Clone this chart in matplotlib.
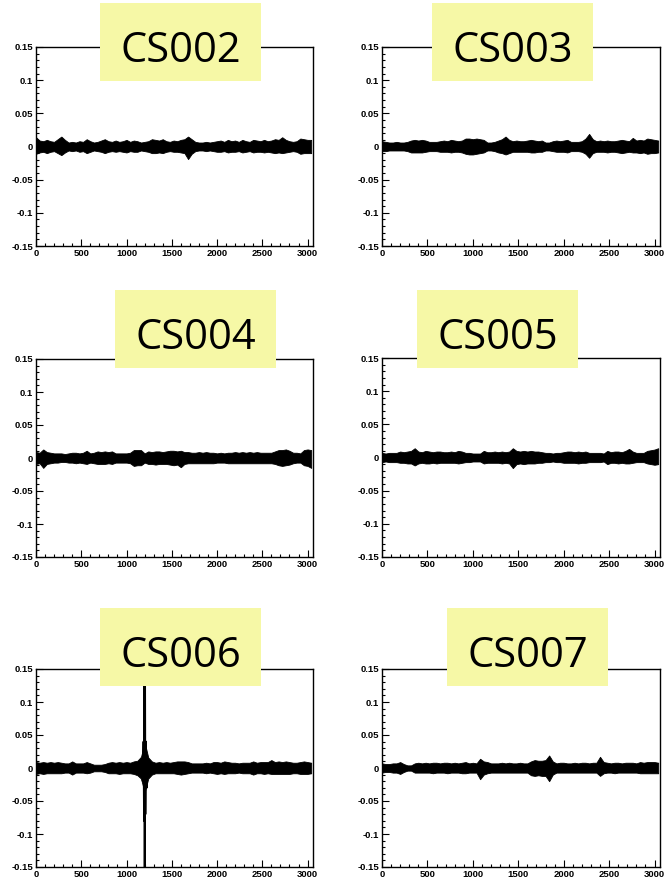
import numpy as np
import matplotlib.pyplot as plt
from matplotlib.patches import Rectangle
from matplotlib.ticker import FixedLocator, MultipleLocator

# Station names (one panel each)
stations = ["CS002", "CS003", "CS004", "CS005", "CS006", "CS007"]

# Sample positions of the envelope readings (every 40 samples)
sample_x = np.arange(0, 3080, 40)

# Upper / lower envelope of each trace (units of 1e-3)
cs002_up = [14, 9, 8, 10, 8, 7, 11, 15, 10, 6, 7, 6, 8, 7, 11, 8, 6, 7, 9, 11,
            8, 7, 9, 7, 8, 10, 7, 9, 8, 6, 7, 8, 11, 10, 9, 11, 8, 7, 9, 8,
            10, 11, 15, 11, 7, 6, 6, 7, 6, 7, 8, 9, 7, 10, 8, 9, 7, 10, 8, 7,
            10, 9, 8, 10, 8, 9, 11, 10, 14, 10, 8, 7, 8, 12, 11, 10, 10]
cs002_lo = [11, 9, 8, 10, 8, 7, 10, 13, 9, 6, 7, 6, 8, 7, 10, 8, 6, 7, 8, 10,
            8, 7, 8, 7, 8, 9, 7, 8, 8, 6, 7, 8, 10, 10, 9, 10, 8, 7, 8, 8,
            9, 10, 19, 11, 7, 6, 6, 7, 6, 7, 8, 8, 7, 9, 8, 8, 7, 9, 8, 7,
            9, 8, 8, 9, 8, 9, 10, 9, 10, 9, 8, 7, 8, 11, 10, 10, 10]

cs003_up = [8, 7, 6, 6, 7, 6, 6, 7, 9, 10, 9, 10, 9, 7, 7, 7, 8, 9, 8, 10,
            9, 8, 9, 12, 12, 11, 12, 11, 10, 6, 6, 7, 9, 11, 15, 10, 8, 9, 8, 8,
            9, 10, 9, 8, 9, 6, 6, 8, 9, 8, 9, 10, 7, 7, 7, 8, 12, 19, 11, 8,
            9, 8, 9, 8, 8, 9, 10, 9, 8, 13, 9, 10, 9, 12, 11, 10, 9]
cs003_lo = [7, 7, 6, 6, 6, 6, 6, 7, 9, 9, 9, 9, 8, 7, 7, 7, 8, 8, 8, 9,
            8, 8, 9, 11, 12, 12, 11, 10, 9, 6, 6, 7, 9, 10, 12, 10, 8, 8, 8, 8,
            8, 9, 9, 8, 8, 6, 6, 7, 8, 8, 8, 9, 7, 7, 7, 8, 11, 17, 10, 8,
            8, 8, 9, 8, 8, 9, 10, 9, 8, 9, 9, 10, 9, 11, 10, 10, 9]

cs004_up = [9, 8, 13, 9, 8, 7, 7, 7, 6, 7, 8, 8, 7, 8, 11, 7, 8, 10, 9, 10,
            9, 10, 7, 7, 7, 7, 8, 12, 12, 12, 7, 10, 9, 10, 10, 9, 10, 11, 11, 10,
            11, 9, 9, 8, 8, 9, 8, 9, 8, 8, 7, 8, 7, 8, 8, 9, 8, 9, 8, 9,
            8, 9, 8, 8, 8, 8, 10, 12, 12, 13, 11, 8, 8, 7, 12, 13, 12]
cs004_lo = [9, 8, 15, 9, 8, 7, 7, 6, 6, 7, 7, 8, 7, 8, 9, 7, 8, 9, 9, 9,
            8, 9, 7, 7, 7, 7, 8, 12, 11, 11, 7, 9, 9, 10, 9, 9, 9, 10, 11, 10,
            14, 9, 8, 8, 8, 8, 8, 8, 8, 8, 7, 7, 7, 8, 8, 8, 8, 8, 8, 8,
            8, 8, 8, 8, 8, 8, 9, 11, 12, 11, 10, 8, 7, 7, 11, 12, 15]

cs005_up = [7, 6, 7, 7, 7, 9, 8, 9, 10, 14, 9, 8, 10, 9, 8, 9, 9, 8, 8, 9,
            8, 10, 9, 7, 7, 6, 6, 6, 10, 8, 8, 9, 8, 9, 8, 9, 14, 10, 9, 10,
            9, 10, 9, 9, 8, 7, 7, 6, 7, 7, 8, 9, 9, 8, 9, 8, 9, 7, 7, 7,
            7, 6, 10, 8, 9, 9, 8, 10, 13, 9, 7, 7, 7, 10, 11, 12, 14]
cs005_lo = [7, 6, 7, 7, 7, 8, 8, 9, 9, 12, 9, 8, 9, 9, 8, 9, 8, 8, 8, 8,
            8, 9, 8, 7, 7, 6, 6, 6, 9, 8, 8, 8, 8, 9, 8, 9, 16, 10, 9, 10,
            9, 9, 9, 8, 8, 7, 7, 6, 7, 7, 8, 8, 8, 8, 9, 8, 8, 7, 7, 7,
            7, 6, 10, 8, 8, 9, 8, 9, 9, 8, 7, 7, 7, 9, 10, 11, 10]

cs006_up = [9, 8, 9, 8, 9, 8, 9, 8, 7, 7, 10, 7, 7, 7, 9, 7, 5, 5, 5, 6,
            8, 9, 8, 9, 8, 9, 8, 10, 11, 17, 39, 16, 10, 8, 9, 8, 9, 8, 9, 10,
            10, 10, 9, 7, 7, 7, 7, 8, 7, 9, 9, 8, 10, 9, 8, 8, 7, 8, 8, 8,
            10, 8, 9, 9, 9, 12, 9, 10, 9, 10, 9, 8, 8, 9, 10, 9, 8]
cs006_lo = [9, 8, 9, 8, 8, 8, 8, 8, 7, 7, 10, 7, 7, 7, 8, 7, 5, 5, 5, 6,
            8, 8, 8, 9, 8, 8, 8, 9, 11, 16, 37, 16, 10, 8, 8, 8, 8, 8, 8, 9,
            10, 9, 8, 7, 7, 7, 7, 8, 7, 8, 9, 8, 9, 8, 8, 8, 7, 8, 8, 8,
            10, 8, 8, 9, 8, 9, 9, 9, 9, 9, 9, 8, 8, 9, 9, 9, 8]

cs007_up = [7, 6, 6, 7, 7, 9, 6, 4, 4, 7, 8, 7, 8, 7, 8, 8, 7, 8, 8, 7,
            8, 7, 8, 9, 7, 8, 7, 14, 10, 9, 7, 7, 7, 8, 7, 8, 7, 7, 8, 7,
            7, 10, 12, 11, 11, 12, 19, 10, 7, 8, 8, 7, 7, 8, 7, 8, 8, 7, 8, 8,
            17, 9, 8, 7, 8, 8, 7, 8, 8, 8, 7, 9, 8, 9, 9, 9, 8]
cs007_lo = [7, 6, 6, 7, 7, 9, 6, 4, 4, 7, 7, 7, 7, 7, 8, 7, 7, 7, 8, 7,
            7, 7, 8, 8, 7, 7, 7, 17, 10, 8, 7, 7, 7, 7, 7, 7, 7, 7, 7, 7,
            7, 11, 12, 11, 12, 12, 20, 10, 7, 7, 7, 7, 7, 7, 7, 7, 7, 7, 7, 7,
            12, 8, 7, 7, 8, 7, 7, 7, 7, 7, 7, 8, 8, 8, 8, 8, 8]

# The strong pulse seen by CS006 around sample 1200
pulse_x = [1170, 1180, 1188, 1194, 1198, 1201, 1204, 1208, 1214, 1222, 1232]
pulse_y = [0.012, -0.02, 0.04, -0.08, 0.17, -0.17, 0.16, -0.07, 0.04, -0.03, 0.015]

uppers = [cs002_up, cs003_up, cs004_up, cs005_up, cs006_up, cs007_up]
lowers = [cs002_lo, cs003_lo, cs004_lo, cs005_lo, cs006_lo, cs007_lo]

# Tick labels (ROOT style)
x_ticks = [0, 500, 1000, 1500, 2000, 2500, 3000]
x_labels = ["0", "500", "1000", "1500", "2000", "2500", "3000"]
y_ticks = [-0.15, -0.1, -0.05, 0, 0.05, 0.1, 0.15]
y_labels = ["-0.15", "-0.1", "-0.05", "0", "0.05", "0.1", "0.15"]

W, H = 664, 881
fig = plt.figure(figsize=(W / 100, H / 100), dpi=100)

# axes frames in pixels: (left, top, right, bottom)
frames = [(36, 47, 313, 246), (382, 47, 660, 246),
          (36, 359, 313, 557), (382, 358, 660, 557),
          (36, 669, 313, 867), (382, 669, 660, 867)]
# yellow title boxes in pixels: (left, top)
boxes = [(100, 3), (432, 3), (115, 290), (417, 290), (100, 608), (447, 608)]
box_w, box_h = 161, 78

for k, name in enumerate(stations):
    l, t, r, b = frames[k]
    ax = fig.add_axes([l / W, 1 - b / H, (r - l) / W, (b - t) / H])
    up = np.array(uppers[k]) * 1e-3
    lo = -np.array(lowers[k]) * 1e-3
    ax.fill_between(sample_x, lo, up, color='black', lw=0.6)
    if name == "CS006":
        ax.plot(pulse_x, pulse_y, color='black', lw=1.4)
    ax.set_xlim(0, 3060)
    ax.set_ylim(-0.15, 0.15)
    ax.xaxis.set_major_locator(FixedLocator(x_ticks))
    ax.xaxis.set_minor_locator(MultipleLocator(100))
    ax.yaxis.set_major_locator(FixedLocator(y_ticks))
    ax.yaxis.set_minor_locator(MultipleLocator(0.01))
    ax.set_xticklabels(x_labels)
    ax.set_yticklabels(y_labels)
    ax.tick_params(which='both', direction='in', top=False, right=False,
                   width=0.8, labelsize=6.8)
    ax.tick_params(which='major', length=5, pad=2)
    ax.tick_params(which='minor', length=2.5)
    for lab in ax.get_xticklabels() + ax.get_yticklabels():
        lab.set_fontfamily('Liberation Sans')
        lab.set_fontweight('bold')
    for s in ax.spines.values():
        s.set_linewidth(1.0)

    bx, by = boxes[k]
    fig.add_artist(Rectangle((bx / W, 1 - (by + box_h) / H), box_w / W, box_h / H,
                             transform=fig.transFigure, facecolor='#f6f8a6',
                             edgecolor='none', zorder=5))
    fig.text((bx + box_w / 2) / W, 1 - (by + 59) / H, name, ha='center',
             va='baseline', fontsize=30, family='Open Sans', zorder=6)

plt.savefig("out.png", dpi=100)
